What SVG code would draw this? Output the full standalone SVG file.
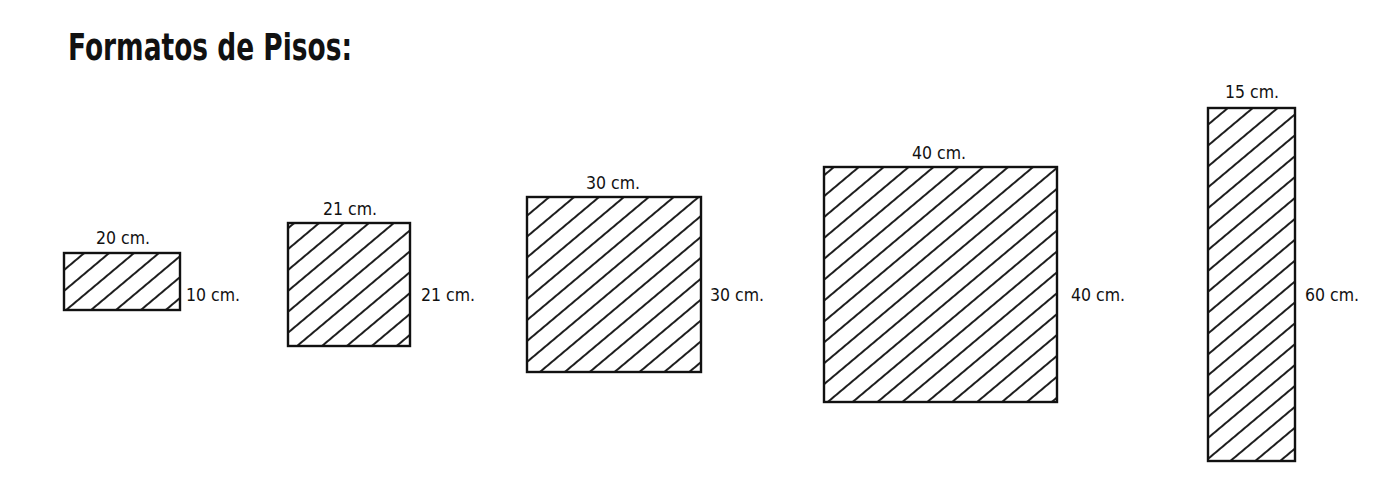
<svg xmlns="http://www.w3.org/2000/svg" width="1399" height="494" viewBox="0 0 1399 494">
<style>
.tile{fill:url(#hatch);stroke:#111;stroke-width:2.4}
.lbl{font-family:"DejaVu Sans Condensed","DejaVu Sans",sans-serif;font-size:17.5px;fill:#111}
.title{font-family:"DejaVu Sans Condensed","DejaVu Sans",sans-serif;font-weight:bold;font-size:38px;fill:#111}
</style>
<defs>
<pattern id="hatch" patternUnits="userSpaceOnUse" width="16" height="16" patternTransform="rotate(-40)">
<line x1="0" y1="8" x2="16" y2="8" stroke="#111" stroke-width="1.9"/>
</pattern>
</defs>
<rect width="1399" height="494" fill="#fff"/>
<text class="title" x="68" y="60" textLength="284" lengthAdjust="spacingAndGlyphs">Formatos de Pisos:</text>
<g id="tile1">
<rect class="tile" x="64" y="253" width="116" height="57"/>
<text class="lbl" x="123" y="244" text-anchor="middle">20 cm.</text>
<text class="lbl" x="186" y="301">10 cm.</text>
</g>
<g id="tile2">
<rect class="tile" x="288" y="223" width="122" height="123"/>
<text class="lbl" x="350" y="215" text-anchor="middle">21 cm.</text>
<text class="lbl" x="421" y="301">21 cm.</text>
</g>
<g id="tile3">
<rect class="tile" x="527" y="197" width="174" height="175"/>
<text class="lbl" x="613" y="189" text-anchor="middle">30 cm.</text>
<text class="lbl" x="710" y="301">30 cm.</text>
</g>
<g id="tile4">
<rect class="tile" x="824" y="167" width="233" height="235"/>
<text class="lbl" x="939" y="159" text-anchor="middle">40 cm.</text>
<text class="lbl" x="1071" y="301">40 cm.</text>
</g>
<g id="tile5">
<rect class="tile" x="1208" y="108" width="87" height="353"/>
<text class="lbl" x="1252" y="98" text-anchor="middle">15 cm.</text>
<text class="lbl" x="1305" y="301">60 cm.</text>
</g>
</svg>
